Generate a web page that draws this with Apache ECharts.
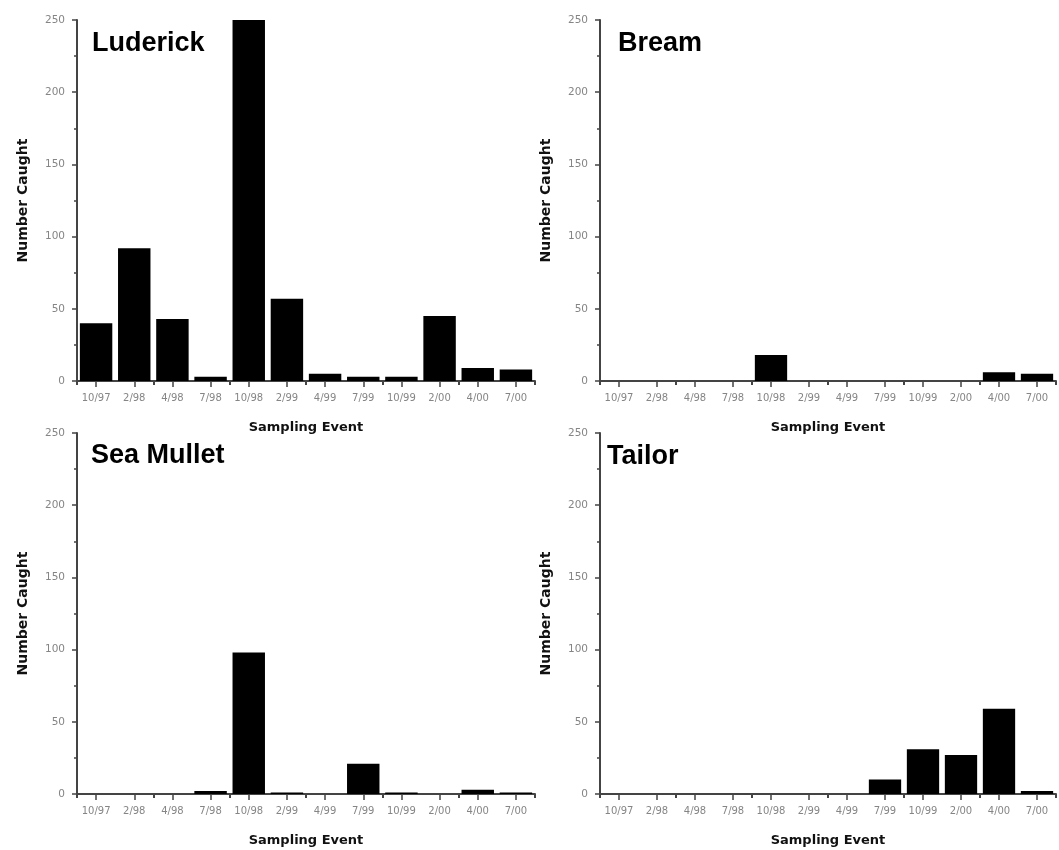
<!DOCTYPE html>
<html>
<head>
<meta charset="utf-8">
<script src="https://cdn.jsdelivr.net/npm/echarts@6/dist/echarts.min.js"></script>
<style>
html,body{margin:0;padding:0;background:#fff;}
#chart{width:1059px;height:850px;}
</style>
</head>
<body>
<div id="chart"></div>
<script>
const categories = ['10/97','2/98','4/98','7/98','10/98','2/99','4/99','7/99','10/99','2/00','4/00','7/00'];
const luderick = [40, 92, 43, 3, 250, 57, 5, 3, 3, 45, 9, 8];
const bream = [0, 0, 0, 0, 18, 0, 0, 0, 0, 0, 6, 5];
const seaMullet = [0, 0, 0, 2, 98, 1, 0, 21, 1, 0, 3, 1];
const tailor = [0, 0, 0, 0, 0, 0, 0, 10, 31, 27, 59, 2];
const panelNames = ['Luderick', 'Bream', 'Sea Mullet', 'Tailor'];
const yMin = 0, yMax = 250, yInterval = 50;
const xTitle = 'Sampling Event';
const yTitle = 'Number Caught';

const seriesData = [luderick, bream, seaMullet, tailor];
const grids = [
  {left: 77, top: 20, width: 458, height: 361},
  {left: 600, top: 20, width: 456, height: 361},
  {left: 77, top: 433, width: 458, height: 361},
  {left: 600, top: 433, width: 456, height: 361}
];
const titlePos = [[92, 46], [618, 46], [91, 458], [607, 459]];

const axisColor = '#444';
const labelColor = '#858585';

const xAxes = [], yAxes = [], series = [], graphics = [];
grids.forEach((g, i) => {
  xAxes.push({
    type: 'category', gridIndex: i, data: categories,
    axisLine: {show: true, lineStyle: {color: axisColor, width: 2}},
    axisTick: {show: true, alignWithLabel: true, length: 6, lineStyle: {color: axisColor, width: 1.5}},
    axisLabel: {color: labelColor, fontSize: 10, fontFamily: 'DejaVu Sans', margin: 12, interval: 0},
    name: xTitle, nameLocation: 'middle', nameGap: 40,
    nameTextStyle: {fontFamily: 'DejaVu Sans', fontWeight: 'bold', fontSize: 13, color: '#111'},
    splitLine: {show: false}
  });
  xAxes.push({
    type: 'category', gridIndex: i, data: categories, position: 'bottom',
    axisLine: {show: false},
    axisTick: {show: true, alignWithLabel: false, length: 4, lineStyle: {color: axisColor, width: 2}},
    axisLabel: {show: false},
    splitLine: {show: false}
  });
  yAxes.push({
    type: 'value', gridIndex: i, min: yMin, max: yMax, interval: yInterval,
    axisLine: {show: true, lineStyle: {color: axisColor, width: 2}},
    axisTick: {show: true, length: 5, lineStyle: {color: axisColor, width: 1.5}},
    minorTick: {show: true, splitNumber: 2, length: 3, lineStyle: {color: axisColor, width: 1.5}},
    axisLabel: {color: labelColor, fontSize: 10.5, fontFamily: 'DejaVu Sans', margin: 12},
    splitLine: {show: false},
    name: yTitle, nameLocation: 'middle', nameGap: 47, nameRotate: 90,
    nameTextStyle: {fontFamily: 'DejaVu Sans', fontWeight: 'bold', fontSize: 14, color: '#111'}
  });
  series.push({
    type: 'bar', xAxisIndex: i * 2, yAxisIndex: i, data: seriesData[i],
    barCategoryGap: '15%',
    itemStyle: {color: '#000'},
    silent: true
  });
  graphics.push({
    type: 'text', left: titlePos[i][0], top: titlePos[i][1] - 16,
    style: {text: panelNames[i], font: 'bold 27px "Liberation Sans", Arial, sans-serif', fill: '#000'}
  });
});

const chart = echarts.init(document.getElementById('chart'), null, {renderer: 'canvas'});
chart.setOption({
  animation: false,
  backgroundColor: '#fff',
  grid: grids,
  xAxis: xAxes,
  yAxis: yAxes,
  series: series,
  graphic: graphics
});
</script>
</body>
</html>
